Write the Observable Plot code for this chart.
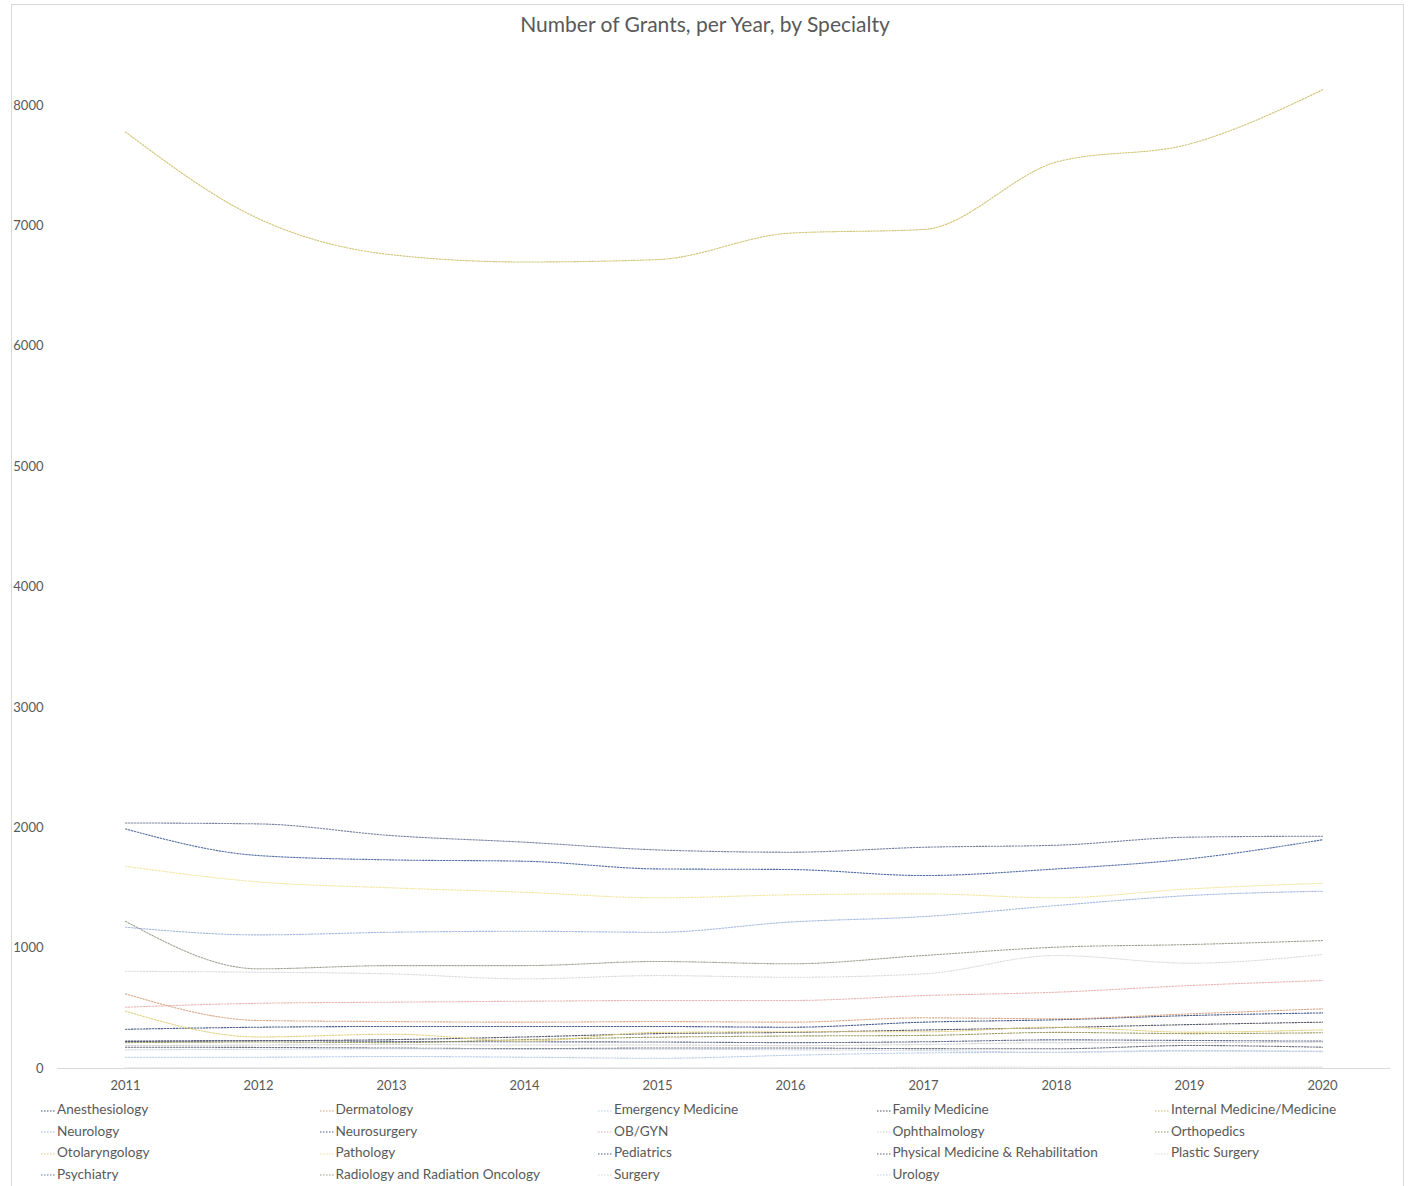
<!DOCTYPE html>
<html>
<head>
<meta charset="utf-8">
<script src="https://cdn.jsdelivr.net/npm/d3@7"></script>
<script src="https://cdn.jsdelivr.net/npm/@observablehq/plot@0.6"></script>
<style>
  html, body { margin: 0; padding: 0; background: #fff; }
  #wrap { position: relative; width: 1410px; height: 1186px; overflow: hidden; font-family: Lato, "Open Sans", sans-serif; }
  #frame { position: absolute; left: 11px; top: 4px; width: 1393px; height: 1200px; border: 1px solid #d9d9d9; box-sizing: border-box; }
  #title { position: absolute; left: 0; top: 11px; width: 1410px; height: 38px; text-align: center; font-size: 21px; color: #595959; }
  #chart { position: absolute; left: 0; top: 48px; }
  .leg { position: absolute; font-size: 13.6px; color: #595959; white-space: nowrap; line-height: 16px; }
  .leg svg { vertical-align: middle; margin-right: 1px; }
</style>
</head>
<body>
<div id="wrap">
  <div id="frame"></div>
  <div id="title">Number of Grants, per Year, by Specialty</div>
  <div id="chart"></div>
  <div id="legend"></div>
</div>
<script>
const years = [2011, 2012, 2013, 2014, 2015, 2016, 2017, 2018, 2019, 2020];

const specialties = [
  "Anesthesiology", "Dermatology", "Emergency Medicine", "Family Medicine", "Internal Medicine/Medicine",
  "Neurology", "Neurosurgery", "OB/GYN", "Ophthalmology", "Orthopedics",
  "Otolaryngology", "Pathology", "Pediatrics", "Physical Medicine & Rehabilitation", "Plastic Surgery",
  "Psychiatry", "Radiology and Radiation Oncology", "Surgery", "Urology"
];

const anesthesiology   = [326, 343, 349, 349, 349, 343, 385, 405, 440, 462];
const dermatology      = [620, 399, 390, 385, 390, 385, 421, 413, 454, 496];
const emergencyMed     = [94, 94, 100, 94, 85, 110, 130, 135, 150, 140];
const familyMedicine   = [225, 230, 240, 262, 290, 300, 320, 340, 365, 385];
const internalMedicine = [7780, 7060, 6760, 6700, 6720, 6940, 6970, 7530, 7680, 8130];
const neurology        = [1174, 1110, 1132, 1140, 1132, 1217, 1262, 1354, 1437, 1473];
const neurosurgery     = [227, 233, 225, 222, 220, 215, 222, 238, 233, 227];
const obgyn            = [509, 542, 551, 559, 565, 565, 606, 634, 689, 731];
const ophthalmology    = [190, 195, 200, 195, 195, 190, 200, 215, 215, 220];
const orthopedics      = [215, 220, 215, 240, 260, 270, 275, 300, 290, 297];
const otolaryngology   = [476, 262, 285, 228, 300, 305, 305, 343, 302, 321];
const pathology        = [1680, 1550, 1501, 1464, 1418, 1443, 1451, 1418, 1492, 1539];
const pediatrics       = [1990, 1769, 1733, 1722, 1658, 1653, 1603, 1658, 1742, 1900];
const pmr              = [177, 175, 170, 165, 170, 170, 165, 164, 191, 177];
const plasticSurgery   = [5, 5, 5, 5, 5, 5, 10, 12, 12, 11];
const psychiatry       = [2040, 2032, 1935, 1880, 1816, 1797, 1838, 1855, 1922, 1930];
const radiology        = [1223, 828, 855, 855, 889, 870, 939, 1008, 1030, 1063];
const surgery          = [808, 800, 786, 745, 772, 758, 786, 939, 875, 947];
const urology          = [155, 160, 164, 160, 160, 155, 150, 135, 144, 144];

const seriesValues = [
  anesthesiology, dermatology, emergencyMed, familyMedicine, internalMedicine,
  neurology, neurosurgery, obgyn, ophthalmology, orthopedics,
  otolaryngology, pathology, pediatrics, pmr, plasticSurgery,
  psychiatry, radiology, surgery, urology
];

const colors = [
  "#3a4f7e", "#d6a27e", "#b4c9e6", "#4a4e5e", "#cbbd64",
  "#9cb3dc", "#535e84", "#e6b0ae", "#cdcdcd", "#969458",
  "#e0cc72", "#f2e39a", "#41609a", "#5e6472", "#dcdcdc",
  "#6a7796", "#959a86", "#d8d8d8", "#c8d2e2"
];

const data = [];
specialties.forEach((s, i) => {
  years.forEach((y, j) => data.push({ specialty: s, year: y, value: seriesValues[i][j] }));
});

const chart = Plot.plot({
  width: 1410,
  height: 1050,
  marginLeft: 57,
  marginRight: 20,
  marginTop: 57,
  marginBottom: 30,
  style: { fontFamily: "Lato, 'Open Sans', sans-serif", fontSize: "13px", color: "#595959", background: "transparent" },
  x: { type: "point", domain: years, padding: 0.5, label: null, tickSize: 0, tickPadding: 12, tickFormat: d3.format("d") },
  y: { domain: [0, 8000], label: null, ticks: d3.range(0, 8001, 1000), tickSize: 0, tickPadding: 14, tickFormat: d3.format("d") },
  color: { domain: specialties, range: colors },
  marks: [
    Plot.ruleY([0], { stroke: "#d9d9d9", strokeWidth: 1 }),
    Plot.line(data, {
      x: "year", y: "value", z: "specialty", stroke: "specialty",
      strokeWidth: 1.1, strokeOpacity: 0.9, strokeDasharray: "1.5,1.5", curve: "monotone-x"
    })
  ]
});
chart.querySelectorAll("[aria-label='x-axis tick label'] text, [aria-label='y-axis tick label'] text").forEach(t => t.setAttribute("fill", "#595959"));
document.getElementById("chart").appendChild(chart);

// legend
const legend = document.getElementById("legend");
specialties.forEach((s, i) => {
  const col = i % 5, row = Math.floor(i / 5);
  const d = document.createElement("div");
  d.className = "leg";
  d.style.left = (41 + col * 278.5) + "px";
  d.style.top = (1101 + row * 21.5) + "px";
  d.innerHTML = `<svg width="15" height="4"><line x1="0" y1="2" x2="15" y2="2" stroke="${colors[i]}" stroke-width="1.2" stroke-dasharray="1.5,1.5"/></svg>${s}`;
  legend.appendChild(d);
});
</script>
</body>
</html>
